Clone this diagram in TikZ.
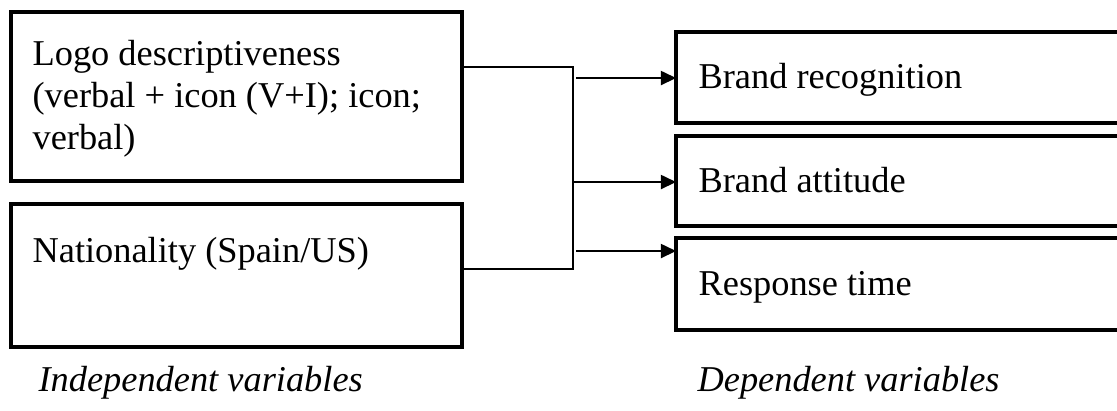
\documentclass[tikz,border=0pt]{standalone}
\usepackage{fontspec}
\setmainfont{Liberation Serif}
\usetikzlibrary{arrows.meta,fit}
\begin{document}
\begin{tikzpicture}[x=0.33pt,y=-0.33pt,
  box/.style={draw,line width=1.15pt,inner sep=0pt,outer sep=0pt},
  link/.style={line width=0.45pt},
  arr/.style={line width=0.45pt,-{Triangle[length=5pt,width=4.7pt]}},
  txt/.style={anchor=base west,inner sep=0pt,font=\fontsize{12}{13.8}\selectfont},
  lbl/.style={anchor=base west,inner sep=0pt,font=\fontsize{12}{13.8}\selectfont\itshape}]
\clip (0,0) rectangle (1117,410);
\useasboundingbox (0,0) rectangle (1117,410);

% independent variable boxes
\node[box,fit={(11,12) (462,181)}] (b1) {};
\node[box,fit={(11,204) (462,347)}] (b2) {};
\node[txt] (t1a) at (32,65) {Logo descriptiveness};
\node[txt] (t1b) at (32,107) {(verbal + icon (V+I); icon;};
\node[txt] (t1c) at (32,149) {verbal)};
\node[txt] (t2) at (32,262) {Nationality (Spain/US)};

% dependent variable boxes (open towards the right)
\node[box,fit={(676,32) (1140,123)}] (r1) {};
\node[box,fit={(676,136) (1140,226)}] (r2) {};
\node[box,fit={(676,238) (1140,330)}] (r3) {};
\node[txt] (u1) at (698,88) {Brand recognition};
\node[txt] (u2) at (698,192) {Brand attitude};
\node[txt] (u3) at (698,295) {Response time};

% bracket joining the two inputs
\coordinate (j1) at (573,67);
\coordinate (j2) at (573,269);
\draw[link] (b1.east |- j1) -- (j1) -- (j2) -- (b2.east |- j2);

% arrows to the outcomes
\coordinate (s1) at (576,78);
\coordinate (s2) at (573,182);
\coordinate (s3) at (576,251);
\draw[arr] (s1) -- (s1 -| r1.west);
\draw[arr] (s2) -- (s2 -| r2.west);
\draw[arr] (s3) -- (s3 -| r3.west);

% captions
\node[lbl] (c1) at (38,391) {Independent variables};
\node[lbl] (c2) at (697,391) {Dependent variables};
\end{tikzpicture}
\end{document}
